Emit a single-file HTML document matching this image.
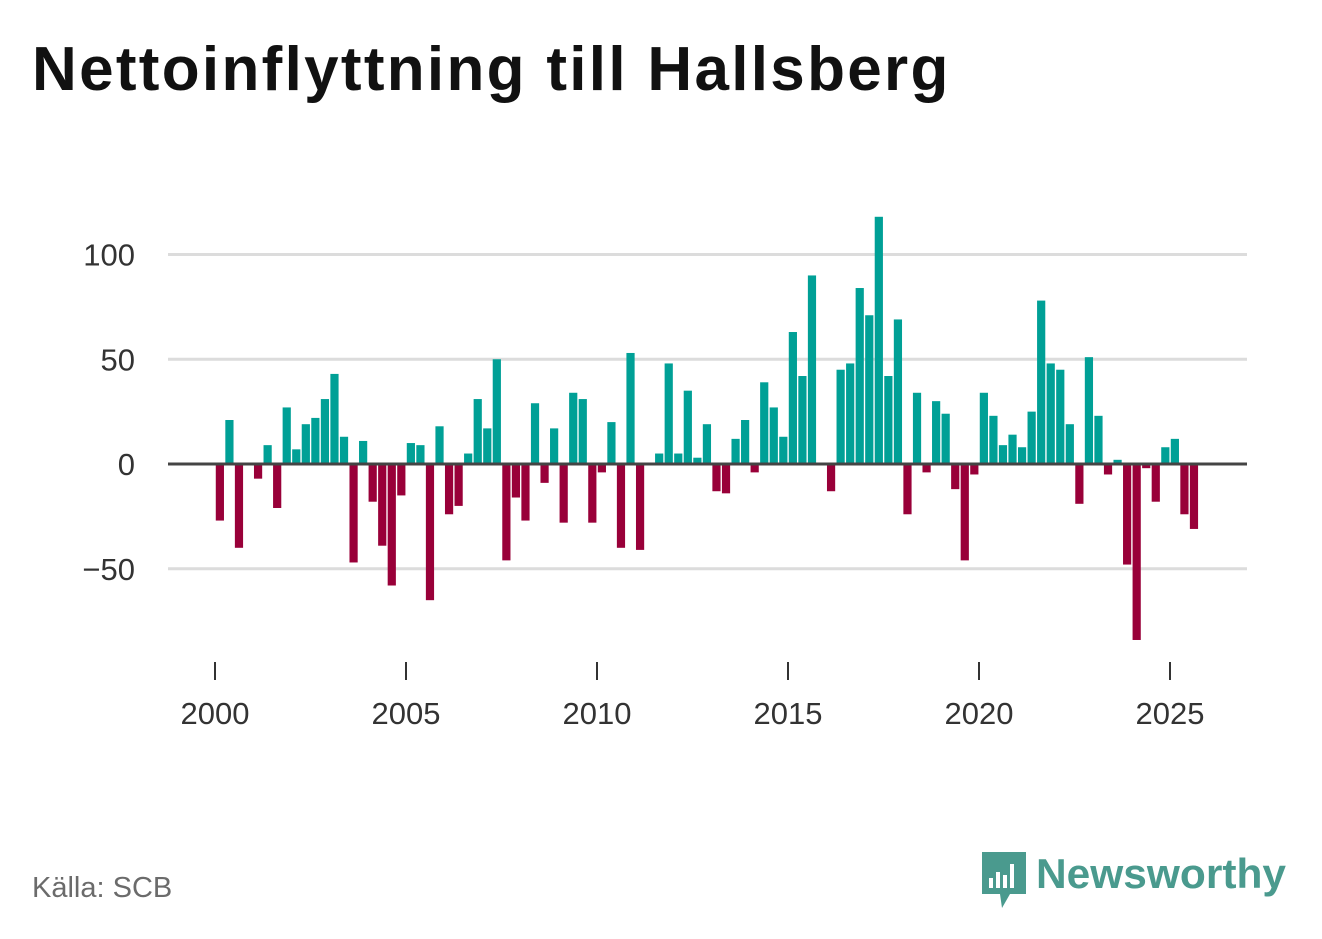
<!DOCTYPE html>
<html><head><meta charset="utf-8"><style>
body{margin:0;background:#fff;font-family:"Liberation Sans","DejaVu Sans",sans-serif;}
#wrap{position:relative;width:1322px;height:939px;overflow:hidden;}
h1{position:absolute;left:32px;top:34px;margin:0;font-size:62px;font-weight:bold;color:#111;letter-spacing:2.3px;}
.src{position:absolute;left:32px;top:872px;font-size:29px;color:#6b6b6b;}
</style></head><body>
<div id="wrap">
<h1>Nettoinflyttning till Hallsberg</h1>
<svg id="chart" width="1322" height="939" style="position:absolute;left:0;top:0"></svg>
<div class="src">Källa: SCB</div>
<svg style="position:absolute;left:980px;top:850px" width="330" height="62">
<path d="M2 2 H46 V44 H30 L22 58 L20 44 H2 Z" fill="#4a9a8e"/>
<rect x="9" y="28" width="4" height="10" fill="#fff"/><rect x="16" y="22" width="4" height="16" fill="#fff"/><rect x="23" y="25" width="4" height="13" fill="#fff"/><rect x="30" y="14" width="4" height="24" fill="#fff"/>
<text x="56" y="38" font-family="Liberation Sans, sans-serif" font-size="42" font-weight="bold" fill="#4a9a8e" textLength="250" lengthAdjust="spacingAndGlyphs">Newsworthy</text>
</svg>
</div>
<script>
const startYear = 2000;
const values = [-27,21,-40,0,-7,9,-21,27,7,19,22,31,43,13,-47,11,-18,-39,-58,-15,10,9,-65,18,-24,-20,5,31,17,50,-46,-16,-27,29,-9,17,-28,34,31,-28,-4,20,-40,53,-41,0,5,48,5,35,3,19,-13,-14,12,21,-4,39,27,13,63,42,90,0,-13,45,48,84,71,118,42,69,-24,34,-4,30,24,-12,-46,-5,34,23,9,14,8,25,78,48,45,19,-19,51,23,-5,2,-48,-84,-2,-18,8,12,-24,-31];
const yTicks = [-50,0,50,100];
const yTickLabels = ["\u221250","0","50","100"];
const xTicks = [2000,2005,2010,2015,2020,2025];
const svg = document.getElementById('chart');
const NS = 'http://www.w3.org/2000/svg';
const x = yr => 215 + (yr - 2000) * 38.2;
const y = v => 464 - v * 2.095;
function mk(tag, attrs){const e=document.createElementNS(NS,tag);for(const k in attrs)e.setAttribute(k,attrs[k]);svg.appendChild(e);return e;}
yTicks.forEach((t,i)=>{
  if(t!==0){const g=mk('line',{x1:168,x2:1247,y1:y(t),y2:y(t),stroke:'#dcdcdc','stroke-width':3});
  
  }
  const l=mk('text',{x:135,y:y(t)+11,'text-anchor':'end','font-size':31,fill:'#333','font-family':'Liberation Sans, sans-serif'});
  l.textContent=yTickLabels[i];
  
  
});
values.forEach((v,i)=>{
  const yr=startYear+i/4;
  const cx=x(yr+0.125);
  const r=mk('rect',{x:cx-4,y:Math.min(y(v),y(0)),width:8.2,height:Math.abs(y(v)-y(0)),fill:v>=0?'#00a096':'#990039'});
  
  
});
const z=mk('line',{x1:168,x2:1247,y1:y(0),y2:y(0),stroke:'#444','stroke-width':3});


xTicks.forEach(t=>{
  const tk=mk('line',{x1:x(t),x2:x(t),y1:662,y2:680,stroke:'#333','stroke-width':2});
  
  
  const l=mk('text',{x:x(t),y:724,'text-anchor':'middle','font-size':31,fill:'#333','font-family':'Liberation Sans, sans-serif'});
  l.textContent=t;
  
  
});
</script>
</body></html>
